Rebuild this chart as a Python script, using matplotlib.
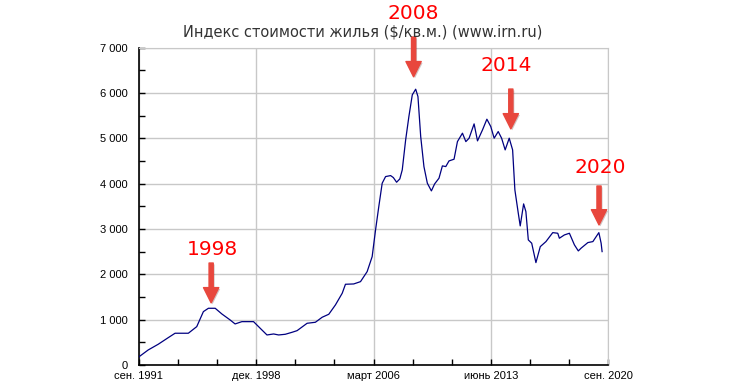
import matplotlib
matplotlib.use("Agg")
import matplotlib.pyplot as plt
import matplotlib.patheffects as pe
from matplotlib.ticker import FixedLocator, MultipleLocator, FuncFormatter

# index values, $/sq.m
years = [
    1991.67, 1992.24, 1992.86, 1993.48, 1993.90, 1994.72, 1995.24, 1995.65,
    1995.96, 1996.38, 1996.79, 1997.30, 1997.61, 1998.03, 1998.75, 1999.16,
    1999.58, 1999.99, 2000.30, 2000.71, 2001.13, 2001.44, 2002.06, 2002.57,
    2002.99, 2003.40, 2003.81, 2004.23, 2004.43, 2004.94, 2005.36, 2005.77,
    2006.08, 2006.29, 2006.49, 2006.70, 2006.91, 2007.22, 2007.39, 2007.59,
    2007.79, 2007.94, 2008.15, 2008.35, 2008.56, 2008.77, 2008.91, 2009.08,
    2009.28, 2009.49, 2009.74, 2009.94, 2010.21, 2010.42, 2010.63, 2010.83,
    2011.14, 2011.35, 2011.66, 2011.87, 2012.07, 2012.38, 2012.59, 2012.90,
    2013.17, 2013.41, 2013.62, 2013.87, 2014.08, 2014.30, 2014.55, 2014.76,
    2014.90, 2015.11, 2015.23, 2015.44, 2015.58, 2015.73, 2015.94, 2016.20,
    2016.47, 2016.82, 2017.24, 2017.55, 2017.65, 2017.96, 2018.27, 2018.58,
    2018.82, 2018.99, 2019.41, 2019.72, 2020.09, 2020.23, 2020.29,
]
prices = [
    180, 331, 457, 603, 700, 700, 846, 1177,
    1251, 1251, 1126, 994, 905, 956, 956, 810,
    662, 684, 662, 677, 721, 757, 920, 942,
    1053, 1119, 1325, 1583, 1781, 1788, 1839, 2060,
    2391, 2981, 3495, 4012, 4158, 4180, 4136, 4033,
    4107, 4306, 4968, 5483, 5962, 6087, 5924, 5041,
    4378, 4012, 3842, 3996, 4122, 4394, 4379, 4504,
    4541, 4930, 5116, 4930, 5005, 5321, 4946, 5189,
    5425, 5262, 5005, 5152, 5005, 4747, 5005, 4747,
    3864, 3350, 3069, 3555, 3385, 2760, 2687, 2259,
    2612, 2723, 2921, 2907, 2797, 2870, 2907, 2650,
    2517, 2577, 2701, 2723, 2921, 2687, 2502,
]

tick_years = [1991.667, 1998.917, 2006.167, 2013.417, 2020.667]
tick_labels = ["сен. 1991", "дек. 1998", "март 2006", "июнь 2013", "сен. 2020"]

# callouts: label, arrow x, arrow top, arrow tip, text x, text y
callouts = [
    ("1998", 1996.13, 2250, 1370, 1996.2, 2540),
    ("2008", 2008.64, 7240, 6360, 2008.6, 7760),
    ("2014", 2014.65, 6090, 5210, 2014.34, 6600),
    ("2020", 2020.10, 3950, 3090, 2020.2, 4350),
]

fig = plt.figure(figsize=(7.39, 3.92), dpi=100)
ax = fig.add_axes([0.188, 0.069, 0.635, 0.809])

ax.plot(years, prices, color="#000080", lw=0.9, zorder=3)

ax.set_xlim(tick_years[0], tick_years[-1])
ax.set_ylim(0, 7000)

ax.xaxis.set_major_locator(FixedLocator(tick_years))
ax.set_xticklabels(tick_labels, fontfamily="Liberation Sans", fontsize=8)
minor_x = []
for a, b in zip(tick_years[:-1], tick_years[1:]):
    step = (b - a) / 3
    minor_x += [a + step, a + 2 * step]
ax.xaxis.set_minor_locator(FixedLocator(minor_x))

ax.yaxis.set_major_locator(MultipleLocator(1000))
ax.yaxis.set_minor_locator(MultipleLocator(500))
ax.yaxis.set_major_formatter(FuncFormatter(lambda v, p: f"{int(v):,}".replace(",", " ")))
for lab in ax.get_yticklabels():
    lab.set_fontfamily("Liberation Sans")
    lab.set_fontsize(8)

ax.tick_params(which="both", direction="in", length=4, width=1, color="black")
ax.tick_params(axis="y", labelsize=8, pad=8)
ax.tick_params(axis="x", labelsize=8, pad=4)
ax.grid(True, which="major", color="#c8c8c8", lw=1)
ax.set_axisbelow(True)

for side in ["top", "right"]:
    ax.spines[side].set_color("#c8c8c8")
ax.spines["left"].set_linewidth(1.2)
ax.spines["bottom"].set_linewidth(1.2)

fig.text(0.491, 0.918, "Индекс стоимости жилья ($/кв.м.) (www.irn.ru)",
         ha="center", va="center", fontsize=10.5, fontfamily="DejaVu Sans",
         color="#333333")

for label, ax_x, top, tip, tx, ty in callouts:
    ax.annotate("", xy=(ax_x, tip), xytext=(ax_x, top),
                arrowprops=dict(arrowstyle="simple,head_width=1.1,head_length=1.1,tail_width=0.3",
                                color="#e8473d", shrinkA=0, shrinkB=0,
                                mutation_scale=10,
                                path_effects=[pe.SimplePatchShadow(offset=(1, -1), alpha=0.25),
                                              pe.Normal()]),
                annotation_clip=False, zorder=5)
    ax.text(tx, ty, label, color="#ff0000", fontsize=14.5, ha="center",
            va="center", fontfamily="DejaVu Sans", clip_on=False, zorder=5)

fig.savefig("out.png", dpi=100)
